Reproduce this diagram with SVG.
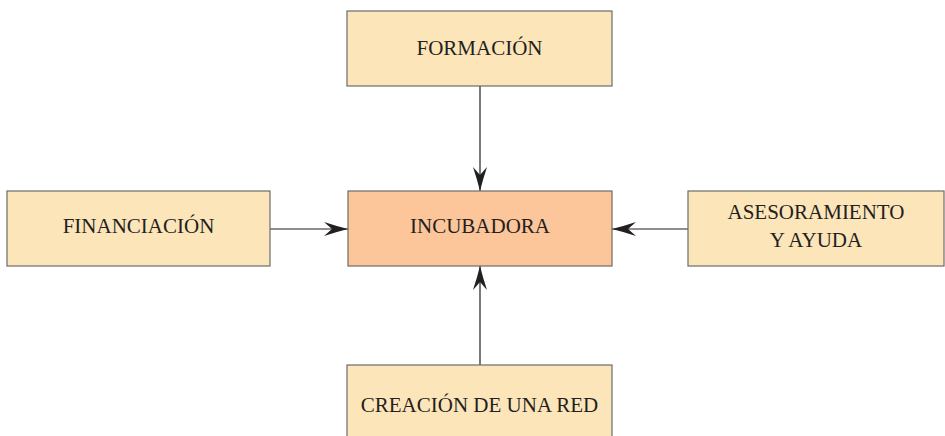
<svg xmlns="http://www.w3.org/2000/svg" width="945" height="436" viewBox="0 0 945 436">
<defs>
<style>
.box{fill:#FDE5BA;stroke:#6b6b6b;stroke-width:1.2}
.hub{fill:#FCC59A;stroke:#6b6b6b;stroke-width:1.2}
.lbl{font-family:"Liberation Serif","Times New Roman",serif;font-size:21px;fill:#231f20;text-anchor:middle}
.conn{stroke:#231f20;stroke-width:1.2;fill:none}
</style>
<marker id="ah" markerWidth="26" markerHeight="16" refX="24" refY="7" orient="auto" markerUnits="userSpaceOnUse">
<path d="M0,0 Q12,4 24,7 Q12,10 0,14 L8,7 Z" fill="#231f20"/>
</marker>
</defs>
<g id="connectors">
<line class="conn" x1="480" y1="86" x2="480" y2="191" marker-end="url(#ah)"/>
<line class="conn" x1="480" y1="365" x2="480" y2="266" marker-end="url(#ah)"/>
<line class="conn" x1="270" y1="229" x2="348" y2="229" marker-end="url(#ah)"/>
<line class="conn" x1="688" y1="229" x2="612" y2="229" marker-end="url(#ah)"/>
</g>
<g id="formacion">
<rect class="box" x="347" y="11" width="265" height="75"/>
<text class="lbl" x="479.5" y="55">FORMACIÓN</text>
</g>
<g id="incubadora">
<rect class="hub" x="348" y="191" width="264" height="75"/>
<text class="lbl" x="480" y="233">INCUBADORA</text>
</g>
<g id="financiacion">
<rect class="box" x="7" y="191" width="263" height="75"/>
<text class="lbl" x="138.5" y="233">FINANCIACIÓN</text>
</g>
<g id="asesoramiento">
<rect class="box" x="688" y="191" width="256" height="75"/>
<text class="lbl" x="816" y="219">ASESORAMIENTO</text>
<text class="lbl" x="816" y="247">Y AYUDA</text>
</g>
<g id="creacion">
<rect class="box" x="347" y="365" width="265" height="80"/>
<text class="lbl" x="479.5" y="412">CREACIÓN DE UNA RED</text>
</g>
</svg>
